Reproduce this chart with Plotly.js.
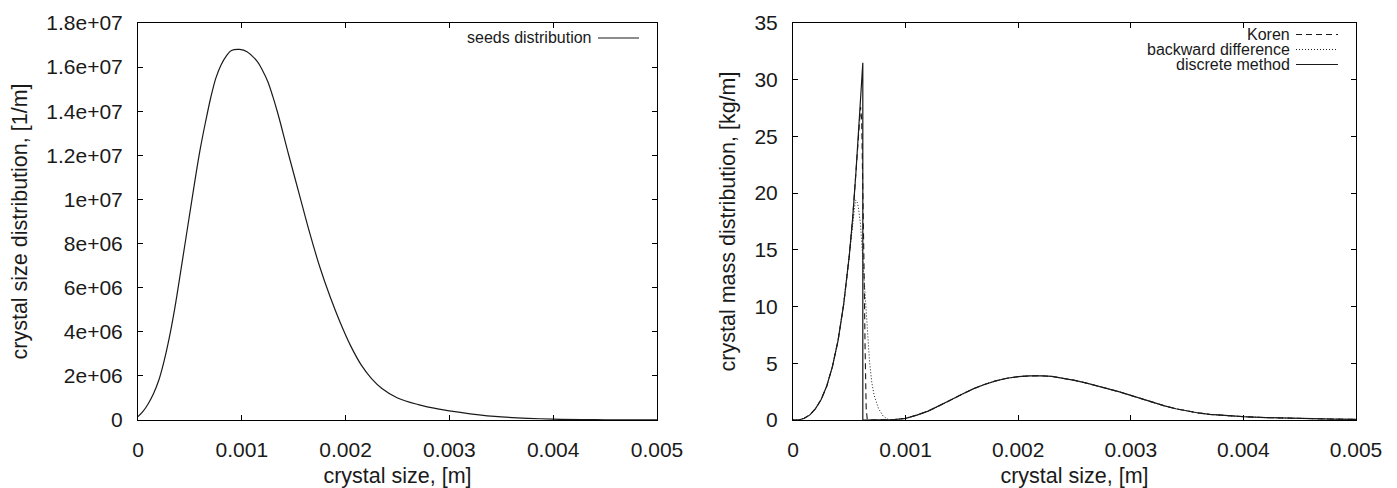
<!DOCTYPE html>
<html>
<head>
<meta charset="utf-8">
<script src="https://cdn.plot.ly/plotly-3.0.1.min.js"></script>
<style>html,body{margin:0;padding:0;background:#fff;}#chart{width:1397px;height:488px;}</style>
</head>
<body>
<div id="chart"></div>
<script>
// ---------- data ----------
// left panel: seeds distribution
var seedX = [0, 0.00005, 0.0001, 0.00015, 0.0002, 0.00025, 0.0003, 0.00035, 0.0004, 0.00045, 0.0005, 0.00055, 0.0006, 0.00065, 0.0007, 0.00075, 0.0008, 0.00085, 0.0009, 0.00098, 0.00105, 0.00115, 0.0012, 0.00125, 0.0013, 0.00135, 0.00145, 0.00155, 0.00165, 0.00175, 0.00185, 0.00195, 0.00205, 0.00215, 0.00225, 0.00235, 0.0025, 0.0027, 0.0029, 0.003, 0.0032, 0.0035, 0.004, 0.0045, 0.005];
var seedY = [1.5e5, 4e5, 7.5e5, 1.2e6, 1.8e6, 2.65e6, 3.7e6, 4.95e6, 6.4e6, 7.9e6, 9.4e6, 1.09e7, 1.23e7, 1.35e7, 1.46e7, 1.55e7, 1.61e7, 1.65e7, 1.675e7, 1.68e7, 1.67e7, 1.625e7, 1.585e7, 1.535e7, 1.465e7, 1.385e7, 1.205e7, 1.03e7, 8.55e6, 6.96e6, 5.6e6, 4.4e6, 3.35e6, 2.5e6, 1.88e6, 1.43e6, 1.0e6, 7.0e5, 4.9e5, 4.1e5, 2.8e5, 1.4e5, 4e4, 1e4, 2e3];

// right panel: common rising part (all three methods)
var riseX = [0, 0.00005, 0.0001, 0.00015, 0.0002, 0.00025, 0.0003, 0.00035, 0.0004, 0.00045, 0.0005];
var riseY = [0, 0, 0.15, 0.45, 1.0, 1.8, 3.0, 4.7, 7.0, 10.2, 14.5];

// discrete method: sharp peak then vertical drop
var discretePeakX = [0.00053, 0.00056, 0.00059, 0.00062, 0.00062, 0.00086];
var discretePeakY = [17.8, 22.0, 27.0, 31.5, 0, 0];

// Koren scheme peak
var korenPeakX = [0.00053, 0.00056, 0.00059, 0.0006, 0.00061, 0.00062, 0.00063, 0.00064, 0.00065, 0.00066, 0.00086];
var korenPeakY = [17.8, 22.0, 27.0, 27.6, 26.5, 21.5, 14.0, 6.5, 1.0, 0, 0];

// backward difference peak
var backPeakX = [0.00052, 0.00054, 0.000555, 0.00057, 0.00058, 0.0006, 0.00062, 0.00064, 0.00066, 0.00068, 0.0007, 0.00072, 0.00076, 0.0008, 0.00084, 0.00086];
var backPeakY = [16.5, 18.4, 19.4, 19.2, 18.8, 17.2, 14.2, 10.6, 7.6, 5.1, 3.3, 2.2, 1.0, 0.35, 0.08, 0];

// second hump, shared by all three methods
var humpX = [0.0009, 0.001, 0.0011, 0.0012, 0.0013, 0.0014, 0.0015, 0.0016, 0.0017, 0.0018, 0.0019, 0.002, 0.0021, 0.0022, 0.0023, 0.0024, 0.0025, 0.0026, 0.0027, 0.0028, 0.0029, 0.003, 0.0031, 0.0032, 0.0033, 0.0034, 0.0035, 0.0036, 0.0037, 0.0038, 0.0039, 0.004, 0.0042, 0.0044, 0.0046, 0.0048, 0.005];
var humpY = [0.03, 0.15, 0.43, 0.78, 1.24, 1.76, 2.27, 2.74, 3.13, 3.45, 3.68, 3.82, 3.89, 3.9, 3.84, 3.7, 3.5, 3.27, 3.02, 2.76, 2.48, 2.17, 1.84, 1.52, 1.24, 0.99, 0.78, 0.62, 0.5, 0.41, 0.34, 0.29, 0.21, 0.15, 0.11, 0.08, 0.05];

// ticks
var xTickVals = [0, 0.001, 0.002, 0.003, 0.004, 0.005];
var xTickText = ["0", "0.001", "0.002", "0.003", "0.004", "0.005"];
var yLeftTickVals = [0, 2e6, 4e6, 6e6, 8e6, 1e7, 1.2e7, 1.4e7, 1.6e7, 1.8e7];
var yLeftTickText = ["0", "2e+06", "4e+06", "6e+06", "8e+06", "1e+07", "1.2e+07", "1.4e+07", "1.6e+07", "1.8e+07"];
var yRightTickVals = [0, 5, 10, 15, 20, 25, 30, 35];
var yRightTickText = ["0", "5", "10", "15", "20", "25", "30", "35"];

var seriesNames = ["seeds distribution", "Koren", "backward difference", "discrete method"];

// ---------- build traces ----------
var FONT = '"Liberation Sans", Arial, Helvetica, sans-serif';
var INK = '#1a1a1a';

var traces = [
  {x: seedX, y: seedY, xaxis: 'x', yaxis: 'y', mode: 'lines', name: seriesNames[0],
   line: {color: INK, width: 1.2, shape: 'spline', smoothing: 1}, showlegend: false},
  {x: riseX.concat(korenPeakX, humpX), y: riseY.concat(korenPeakY, humpY), xaxis: 'x2', yaxis: 'y2', mode: 'lines',
   name: seriesNames[1], line: {color: INK, width: 1.1, dash: '6px,4px'}, showlegend: false},
  {x: riseX.concat(backPeakX, humpX), y: riseY.concat(backPeakY, humpY), xaxis: 'x2', yaxis: 'y2', mode: 'lines',
   name: seriesNames[2], line: {color: INK, width: 1, dash: '1px,2px'}, showlegend: false},
  {x: riseX.concat(discretePeakX, humpX), y: riseY.concat(discretePeakY, humpY), xaxis: 'x2', yaxis: 'y2', mode: 'lines',
   name: seriesNames[3], line: {color: INK, width: 1.2}, showlegend: false}
];

// ---------- layout ----------
var W = 1397, H = 488, ML = 138, MR = 41, MT = 23, MB = 68;
function px(p) { return (p - ML) / (W - ML - MR); }
function py(p) { return (H - MB - p) / (H - MT - MB); }

var TICKSIZE = 21, TITLESIZE = 21.5;
function axisBase() {
  return {
    showline: true, linecolor: '#000', linewidth: 1, mirror: 'ticks',
    ticks: 'inside', ticklen: 5, tickwidth: 1, tickcolor: '#000',
    showgrid: false, zeroline: false,
    tickfont: {family: FONT, size: TICKSIZE, color: INK}
  };
}
function titleObj(t, standoff) {
  return {text: t, font: {family: FONT, size: TITLESIZE, color: INK}, standoff: standoff};
}

var xa = Object.assign(axisBase(), {domain: [0, px(657)], range: [0, 0.005], anchor: 'y',
  tickmode: 'array', tickvals: xTickVals, ticktext: xTickText, ticklabelstandoff: 11,
  title: titleObj('crystal size, [m]', 7)});
var xa2 = Object.assign(axisBase(), {domain: [px(793), 1], range: [0, 0.005], anchor: 'y2',
  tickmode: 'array', tickvals: xTickVals, ticktext: xTickText, ticklabelstandoff: 11,
  title: titleObj('crystal size, [m]', 7)});
var ya = Object.assign(axisBase(), {domain: [0, 1], range: [0, 1.8e7], anchor: 'x',
  tickmode: 'array', tickvals: yLeftTickVals, ticktext: yLeftTickText, ticklabelstandoff: 10,
  title: titleObj('crystal size distribution, [1/m]', 12)});
var ya2 = Object.assign(axisBase(), {domain: [0, 1], range: [0, 35], anchor: 'x2',
  tickmode: 'array', tickvals: yRightTickVals, ticktext: yRightTickText, ticklabelstandoff: 10,
  title: titleObj('crystal mass distribution, [kg/m]', 12)});

// gnuplot-style keys: right-aligned label followed by a line sample
var legendFont = {family: FONT, size: 16, color: INK};
var annotations = [], shapes = [];
function keyEntry(label, textRight, lineL, lineR, yPix, dash, width) {
  annotations.push({xref: 'paper', yref: 'paper', x: px(textRight), y: py(yPix), xanchor: 'right', yanchor: 'middle',
    text: label, showarrow: false, font: legendFont});
  shapes.push({type: 'line', xref: 'paper', yref: 'paper', x0: px(lineL), x1: px(lineR), y0: py(yPix), y1: py(yPix),
    line: {color: INK, width: width, dash: dash}});
}
keyEntry(seriesNames[0], 594, 598, 639, 38, 'solid', 1.2);
keyEntry(seriesNames[1], 1292, 1296, 1338, 34.5, '6px,4px', 1.1);
keyEntry(seriesNames[2], 1292, 1296, 1338, 49.5, '1px,2px', 1);
keyEntry(seriesNames[3], 1292, 1296, 1338, 64.5, 'solid', 1.2);

var layout = {
  width: W, height: H, autosize: false,
  margin: {l: ML, r: MR, t: MT, b: MB, pad: 0},
  paper_bgcolor: '#fff', plot_bgcolor: '#fff',
  font: {family: FONT, color: INK},
  showlegend: false,
  xaxis: xa, yaxis: ya, xaxis2: xa2, yaxis2: ya2,
  annotations: annotations, shapes: shapes
};

Plotly.newPlot('chart', traces, layout, {displayModeBar: false, staticPlot: true});
</script>
</body>
</html>
